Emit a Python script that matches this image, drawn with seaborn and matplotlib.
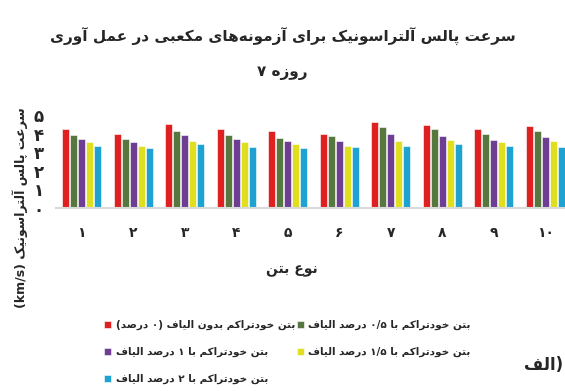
"""
Ultrasonic pulse velocity of cube specimens at 7 days curing (grouped bars).
"""
import numpy as np
import pandas as pd
import matplotlib
matplotlib.use("Agg")
import matplotlib.pyplot as plt
import seaborn as sns

# ── data ─────────────────────────────────────────────────────────────────────
concrete_types = ["۱", "۲", "۳", "۴", "۵", "۶", "۷", "۸", "۹", "۱۰"]
y_tick_labels  = ["۰", "۱", "۲", "۳", "۴", "۵"]

series_names = [
    "بتن خودتراکم بدون الیاف (۰ درصد)",
    "بتن خودتراکم با ۰/۵ درصد الیاف",
    "بتن خودتراکم با ۱ درصد الیاف",
    "بتن خودتراکم با ۱/۵ درصد الیاف",
    "بتن خودتراکم با ۲ درصد الیاف",
]
fiber_0   = [4.23, 4.00, 4.50, 4.23, 4.14, 4.00, 4.62, 4.48, 4.23, 4.38]
fiber_05  = [3.90, 3.69, 4.14, 3.90, 3.78, 3.89, 4.37, 4.23, 4.00, 4.13]
fiber_1   = [3.69, 3.55, 3.90, 3.69, 3.58, 3.58, 4.00, 3.89, 3.68, 3.79]
fiber_15  = [3.55, 3.35, 3.60, 3.55, 3.44, 3.33, 3.58, 3.67, 3.54, 3.59]
fiber_2   = [3.35, 3.21, 3.46, 3.30, 3.21, 3.28, 3.33, 3.44, 3.34, 3.29]

colors = ["#FF0000", "#548235", "#7030A0", "#FFFF00", "#00B0F0"]

title_l1 = "سرعت پالس آلتراسونیک برای آزمونه\u200cهای مکعبی در عمل آوری"
title_day = "۷"
title_l2 = "روزه"
y_title  = "سرعت پالس آلتراسونیک (km/s)"
x_title  = "نوع بتن"
panel    = "الف"

# ── minimal Persian shaping (no bidi lib in sandbox) ─────────────────────────
# (isolated, final, initial, medial)
FORMS = {
    "\u0627": ("\uFE8D", "\uFE8E", None, None),
    "\u0622": ("\uFE81", "\uFE82", None, None),
    "\u0628": ("\uFE8F", "\uFE90", "\uFE91", "\uFE92"),
    "\u062A": ("\uFE95", "\uFE96", "\uFE97", "\uFE98"),
    "\u062E": ("\uFEA5", "\uFEA6", "\uFEA7", "\uFEA8"),
    "\u062F": ("\uFEA9", "\uFEAA", None, None),
    "\u0631": ("\uFEAD", "\uFEAE", None, None),
    "\u0632": ("\uFEAF", "\uFEB0", None, None),
    "\u0633": ("\uFEB1", "\uFEB2", "\uFEB3", "\uFEB4"),
    "\u0635": ("\uFEB9", "\uFEBA", "\uFEBB", "\uFEBC"),
    "\u0639": ("\uFEC9", "\uFECA", "\uFECB", "\uFECC"),
    "\u0641": ("\uFED1", "\uFED2", "\uFED3", "\uFED4"),
    "\u0644": ("\uFEDD", "\uFEDE", "\uFEDF", "\uFEE0"),
    "\u0645": ("\uFEE1", "\uFEE2", "\uFEE3", "\uFEE4"),
    "\u0646": ("\uFEE5", "\uFEE6", "\uFEE7", "\uFEE8"),
    "\u0647": ("\uFEE9", "\uFEEA", "\uFEEB", "\uFEEC"),
    "\u0648": ("\uFEED", "\uFEEE", None, None),
    "\u067E": ("\uFB56", "\uFB57", "\uFB58", "\uFB59"),
    "\u06A9": ("\uFB8E", "\uFB8F", "\uFB90", "\uFB91"),
    "\u06CC": ("\uFBFC", "\uFBFD", "\uFBFE", "\uFBFF"),
}
MIRROR = {"(": ")", ")": "("}
LTR = set("0123456789/km.s") | {chr(c) for c in range(0x06F0, 0x06FA)}


def shape(s):
    out = []
    for i, ch in enumerate(s):
        if ch not in FORMS:
            out.append(ch)
            continue
        prev = s[i - 1] if i > 0 else ""
        nxt = s[i + 1] if i + 1 < len(s) else ""
        jp = prev in FORMS and FORMS[prev][2] is not None
        jn = FORMS[ch][2] is not None and nxt in FORMS
        iso, fin, ini, med = FORMS[ch]
        out.append(med if jp and jn else fin if jp else ini if jn else iso)
    return "".join(out).replace("\u200c", "")


def fa(s):
    tokens, run = [], ""
    for ch in shape(s):
        if ch in LTR:
            run += ch
        else:
            if run:
                tokens.append(run)
                run = ""
            tokens.append(MIRROR.get(ch, ch))
    if run:
        tokens.append(run)
    return "".join(reversed(tokens))


# ── long table for seaborn ───────────────────────────────────────────────────
values = [fiber_0, fiber_05, fiber_1, fiber_15, fiber_2]
rows = []
for name, vals in zip(series_names, values):
    for t, v in zip(concrete_types, vals):
        rows.append({"type": t, "speed": v, "mix": fa(name)})
df = pd.DataFrame(rows)

# ── plot ─────────────────────────────────────────────────────────────────────
sns.set_style("white")
plt.rcParams["font.family"] = ["DejaVu Sans"]
plt.rcParams["font.weight"] = "bold"

fig = plt.figure(figsize=(5.65, 3.91), dpi=100)
ax = fig.add_axes([0.0991, 0.468, 0.9115, 0.238])

sns.barplot(
    data=df, x="type", y="speed", hue="mix",
    order=concrete_types, hue_order=[fa(n) for n in series_names],
    palette=colors, width=0.78, gap=0.1,
    edgecolor="white", linewidth=0.4,
    ax=ax,
)

ax.set_ylim(0, 5)
ax.set_yticks(range(6))
ax.set_yticklabels(y_tick_labels, fontsize=12, fontweight="bold")
ax.set_xticks(range(len(concrete_types)))
ax.set_xticklabels(concrete_types, fontsize=10, fontweight="bold")
ax.tick_params(axis="y", length=0, pad=9)
ax.tick_params(axis="x", length=0, pad=13)
ax.set_xlabel("")
ax.set_ylabel("")
for side in ["left", "right", "top"]:
    ax.spines[side].set_visible(False)
ax.spines["bottom"].set_color("#D9D9D9")
ax.spines["bottom"].set_linewidth(1.5)

# titles
fig.text(0.5, 1 - 37 / 391, fa(title_l1), ha="center", va="center",
         fontsize=11, fontweight="bold")
fig.text(0.5, 1 - 73 / 391, title_day + " " + fa(title_l2), ha="center",
         va="center", fontsize=11, fontweight="bold")
fig.text(292 / 565, 1 - 270 / 391, fa(x_title), ha="center", va="center",
         fontsize=10, fontweight="bold")
fig.text(20 / 565, 1 - 208 / 391, fa(y_title), ha="center", va="center",
         rotation=90, fontsize=9, fontweight="bold")
fig.text(563 / 565, 1 - 365 / 391, fa(panel) + ")", ha="right", va="center",
         fontsize=12, fontweight="bold")

# legend, row-major order like the original
handles, labels = ax.get_legend_handles_labels()
order = [0, 2, 4, 1, 3]
ax.legend(
    [handles[i] for i in order], [labels[i] for i in order],
    ncol=2, frameon=False,
    loc="upper left", bbox_to_anchor=(100 / 565, 1 - 316 / 391),
    bbox_transform=fig.transFigure,
    prop={"size": 7.5, "weight": "bold"},
    handlelength=0.7, handleheight=0.7, handletextpad=0.4,
    labelspacing=1.6, columnspacing=0.2, borderaxespad=0,
)

fig.savefig("out.png", dpi=100)
plt.close()
